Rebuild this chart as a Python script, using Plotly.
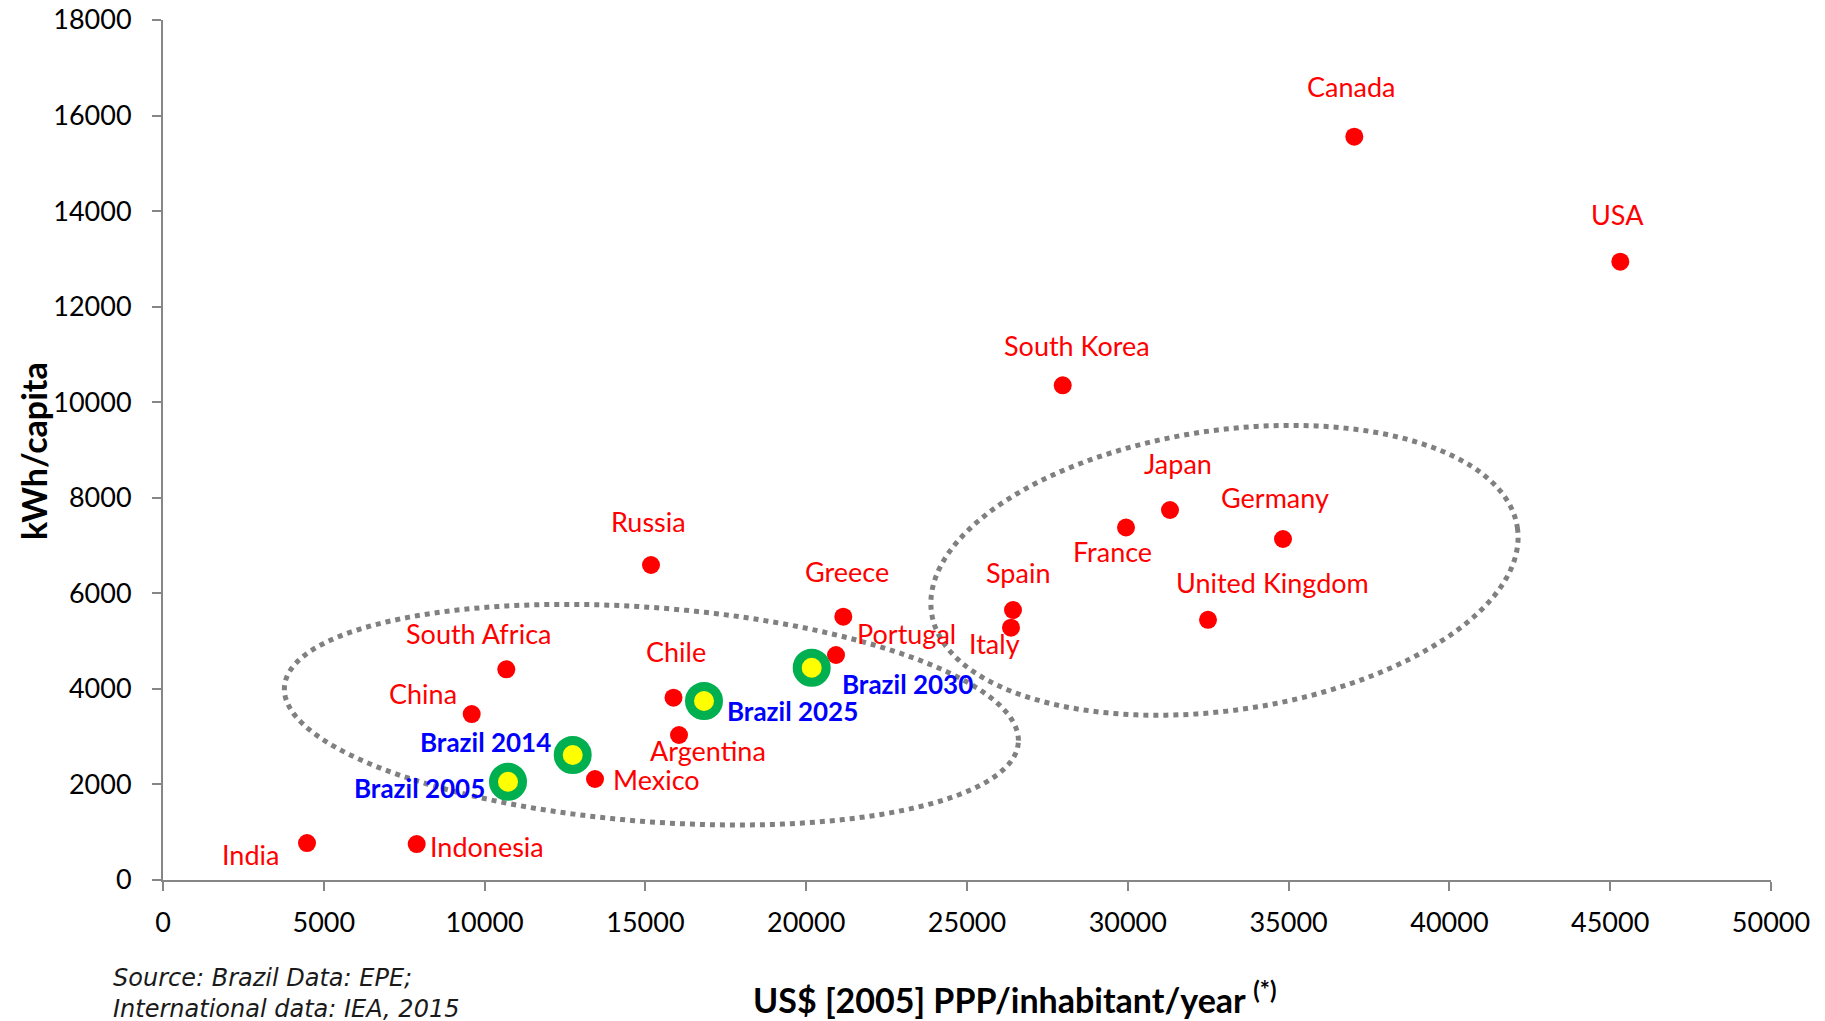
import numpy as np
import plotly.graph_objects as go

# ---------------- data ----------------
countries = ["India", "Indonesia", "China", "South Africa", "Mexico", "Russia",
             "Chile", "Argentina", "Portugal", "Greece", "Italy", "Spain",
             "South Korea", "France", "Japan", "United Kingdom", "Germany",
             "Canada", "USA"]
gdp_ppp = [4478, 7889, 9599, 10675, 13433, 15174,
           15874, 16045, 20927, 21154, 26368, 26430,
           27976, 29944, 31312, 32494, 34826,
           37043, 45314]
kwh_capita = [774, 753, 3474, 4410, 2114, 6593,
              3816, 3035, 4709, 5511, 5281, 5651,
              10354, 7378, 7744, 5446, 7137,
              15557, 12941]

brazil_labels = ["Brazil 2005", "Brazil 2014", "Brazil 2025", "Brazil 2030"]
brazil_gdp = [10728, 12740, 16822, 20171]
brazil_kwh = [2057, 2616, 3747, 4443]

x_ticks = [0, 5000, 10000, 15000, 20000, 25000, 30000, 35000, 40000, 45000, 50000]
y_ticks = [0, 2000, 4000, 6000, 8000, 10000, 12000, 14000, 16000, 18000]

x_title = "US$ [2005] PPP/inhabitant/year"
x_title_note = "(*)"
y_title = "kWh/capita"
source_lines = ["Source: Brazil Data: EPE;", "International data: IEA, 2015"]

# ---------------- label placement (anchor, dx px, dy px up) ----------------
country_label_pos = {
    "India": ("right", -26, -11), "Indonesia": ("left", 11, -2),
    "China": ("right", -13, 21), "South Africa": ("center", -28, 36),
    "Mexico": ("left", 16, 0), "Russia": ("center", -3, 44),
    "Chile": ("center", 2, 46), "Argentina": ("center", 29, -16),
    "Portugal": ("left", 19, 22), "Greece": ("center", 4, 45),
    "Italy": ("center", -16, -16), "Spain": ("center", 5, 38),
    "South Korea": ("center", 14, 40), "France": ("center", -14, -24),
    "Japan": ("center", 8, 47), "United Kingdom": ("center", 64, 37),
    "Germany": ("center", -8, 42), "Canada": ("center", -3, 50),
    "USA": ("center", -3, 47),
}
brazil_label_pos = {
    "Brazil 2005": ("right", -21, -6), "Brazil 2014": ("right", -20, 13),
    "Brazil 2025": ("left", 21, -10), "Brazil 2030": ("left", 28, -16),
}

# ---------------- geometry ----------------
W, H = 1825, 1021
PAGE_OFF = 8                     # default page margin around the figure
PL, PR, PT, PB = 163, 1771, 20, 880   # plot area in screen pixels
ML, MT = PL - PAGE_OFF, PT - PAGE_OFF
MR = W - (PR - PAGE_OFF)
MB = H - (PB - PAGE_OFF)
PW, PH = PR - PL, PB - PT
XMAX, YMAX = 50000, 18000
XS, YS = XMAX / PW, YMAX / PH  # data units per pixel

RED = "#FF0000"
BLUE = "#0000FF"
GREEN = "#00B050"
YELLOW = "#FFFF00"
AXIS = "#868686"
FONT = "Lato"


def px_x(sx):
    return (sx - PL) / PW


def px_y(sy):
    return (PB - sy) / PH


def ellipse_path(cx, cy, a, b, theta_deg, n=240):
    t = np.linspace(0, 2 * np.pi, n)
    th = np.radians(theta_deg)
    dx = a * np.cos(t) * np.cos(th) - b * np.sin(t) * np.sin(th)
    dy = a * np.cos(t) * np.sin(th) + b * np.sin(t) * np.cos(th)
    X = cx + dx * XS
    Y = cy - dy * YS
    pts = [f"{x:.2f},{y:.2f}" for x, y in zip(X, Y)]
    return "M " + " L ".join(pts) + " Z"


fig = go.Figure()

fig.add_trace(go.Scatter(
    x=gdp_ppp, y=kwh_capita, mode="markers",
    marker=dict(size=18, color=RED, line=dict(width=0)),
    hoverinfo="skip", showlegend=False,
))
fig.add_trace(go.Scatter(
    x=brazil_gdp, y=brazil_kwh, mode="markers",
    marker=dict(size=29, color=YELLOW, line=dict(width=9, color=GREEN)),
    hoverinfo="skip", showlegend=False,
))

annotations = []
for name, xv, yv in zip(countries, gdp_ppp, kwh_capita):
    anc, dx, dy = country_label_pos[name]
    annotations.append(dict(
        x=xv, y=yv, xref="x", yref="y", text=name, showarrow=False,
        xanchor=anc, yanchor="middle", xshift=dx, yshift=dy,
        font=dict(family=FONT, size=27, color=RED),
    ))
for name, xv, yv in zip(brazil_labels, brazil_gdp, brazil_kwh):
    anc, dx, dy = brazil_label_pos[name]
    annotations.append(dict(
        x=xv, y=yv, xref="x", yref="y", text=f"<b>{name}</b>", showarrow=False,
        xanchor=anc, yanchor="middle", xshift=dx, yshift=dy,
        font=dict(family=FONT, size=26, color=BLUE),
    ))

# axis titles and source note
annotations.append(dict(
    x=px_x(33), y=px_y(451), xref="paper", yref="paper",
    text=f"<b>{y_title}</b>", textangle=-90, showarrow=False,
    xanchor="center", yanchor="middle",
    font=dict(family=FONT, size=34, color="black"),
))
annotations.append(dict(
    x=px_x(1015), y=px_y(998), xref="paper", yref="paper",
    text=f"<b>{x_title} <sup>{x_title_note}</sup></b>", showarrow=False,
    xanchor="center", yanchor="middle",
    font=dict(family=FONT, size=34, color="black"),
))
annotations.append(dict(
    x=px_x(111), y=px_y(962), xref="paper", yref="paper",
    text="<i>" + "<br>".join(source_lines) + "</i>", showarrow=False,
    xanchor="left", yanchor="top", align="left",
    font=dict(family="DejaVu Sans", size=24, color="#1a1a1a"),
))

shapes = [
    dict(type="path", xref="x", yref="y", layer="below",
         path=ellipse_path(15186, 3460, 368, 107, 4.37),
         line=dict(color="#808080", width=5, dash="dot")),
    dict(type="path", xref="x", yref="y", layer="below",
         path=ellipse_path(33006, 6482, 296, 140, -8.26),
         line=dict(color="#808080", width=5, dash="dot")),
]

axis_common = dict(
    showgrid=False, zeroline=False, showline=True, linecolor=AXIS, linewidth=2,
    ticks="outside", ticklen=9, tickwidth=2, tickcolor=AXIS,
    tickfont=dict(family=FONT, size=27, color="black"),
    automargin=False, fixedrange=True, ticklabeloverflow="allow",
)

fig.update_layout(
    width=W, height=H,
    margin=dict(l=ML, r=MR, t=MT, b=MB, pad=0, autoexpand=False),
    paper_bgcolor="white", plot_bgcolor="white",
    showlegend=False,
    annotations=annotations, shapes=shapes,
    font=dict(family=FONT, color="black"),
    xaxis=dict(range=[0, XMAX], tickvals=x_ticks, ticktext=[str(v) for v in x_ticks],
               ticklabelstandoff=9, **axis_common),
    yaxis=dict(range=[0, YMAX], tickvals=y_ticks, ticktext=[str(v) for v in y_ticks],
               ticklabelstandoff=15, **axis_common),
)

fig.write_html("out.html")
